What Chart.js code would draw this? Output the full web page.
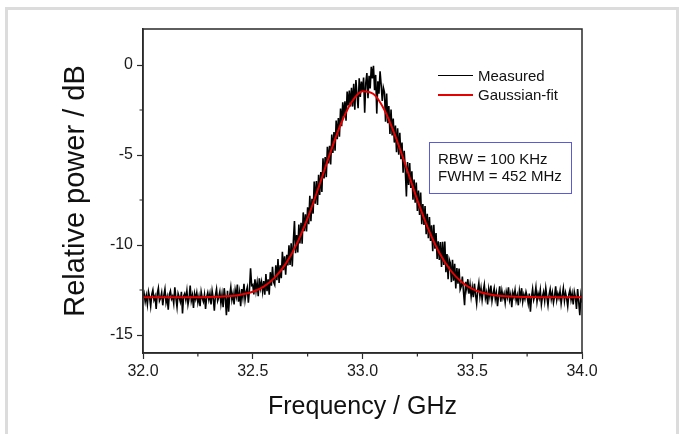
<!DOCTYPE html>
<html>
<head>
<meta charset="utf-8">
<script src="https://cdn.jsdelivr.net/npm/chart.js@4.4.1/dist/chart.umd.min.js"></script>
<style>
  html, body { margin: 0; padding: 0; background: #fff; }
  #wrap { position: relative; width: 680px; height: 434px; overflow: hidden; font-family: 'Liberation Sans', Arial, sans-serif; }
  #frame { position: absolute; left: 5px; top: 7px; width: 668px; height: 500px; border: 3px solid #dcdcdc; border-bottom: none; }
  #c { position: absolute; left: 0; top: 0; }
  .leg { position: absolute; font-size: 15px; line-height: 17px; color: #111; white-space: nowrap; }
  .legline { position: absolute; height: 0; width: 35px; }
  #box { position: absolute; left: 429px; top: 142px; width: 141px; height: 50px; border: 1.5px solid #5b5bd8; }
  .boxtxt { position: absolute; font-size: 15px; line-height: 17px; color: #111; white-space: nowrap; }
</style>
</head>
<body>
<div id="wrap">
  <div id="frame"></div>
  <canvas id="c" width="680" height="434"></canvas>
  <div class="legline" style="left:438px;top:75px;border-top:1.6px solid #000;"></div>
  <div class="leg" style="left:478px;top:67px;">Measured</div>
  <div class="legline" style="left:438px;top:94px;border-top:2px solid #e60000;"></div>
  <div class="leg" style="left:478px;top:86px;">Gaussian-fit</div>
  <div id="box"></div>
  <div class="boxtxt" style="left:438px;top:150px;">RBW = 100 KHz</div>
  <div class="boxtxt" style="left:438px;top:167px;">FWHM = 452 MHz</div>
</div>
<script>
// ---- data ----
const freqStart = 32.0;          // GHz
const measuredStep = 0.005;      // GHz between measured samples
const fitStep = 0.05;            // GHz between fit samples

const measuredDb = [
  -12.95,-12.70,-13.15,-12.80,-13.30,-12.60,-12.90,-13.40,-12.75,-12.50,
  -13.05,-12.85,-13.55,-12.70,-12.40,-13.10,-12.95,-12.65,-13.35,-12.80,
  -12.45,-13.20,-12.90,-13.60,-12.75,-12.55,-13.00,-12.85,-13.25,-12.35,
  -12.95,-13.45,-12.70,-12.90,-13.15,-12.60,-13.80,-12.85,-12.70,-13.05,
  -12.55,-13.30,-12.95,-12.25,-13.10,-12.80,-13.50,-12.70,-13.00,-12.65,
  -13.20,-12.85,-13.40,-12.60,-12.95,-13.15,-12.75,-13.55,-12.90,-12.65,
  -13.05,-12.70,-13.30,-12.55,-12.95,-13.65,-12.80,-12.45,-13.10,-12.90,
  -12.60,-13.25,-12.75,-13.45,-12.40,-12.95,-13.90,-12.55,-13.70,-12.80,
  -12.35,-13.05,-12.70,-13.30,-12.50,-12.85,-12.20,-13.15,-12.65,-13.40,
  -12.45,-12.90,-12.15,-13.05,-12.60,-12.35,-13.20,-12.50,-11.30,-12.25,
  -12.20,-12.75,-11.90,-12.55,-12.10,-12.85,-11.85,-12.40,-12.05,-12.60,
  -12.01,-12.76,-11.61,-12.56,-11.91,-12.76,-11.51,-12.26,-11.21,-12.06,
  -12.21,-11.13,-11.96,-10.78,-12.11,-11.13,-11.85,-10.38,-11.40,-10.63,
  -11.65,-10.54,-11.13,-10.02,-11.11,-9.90,-11.19,-9.78,-8.67,-10.46,
  -9.45,-10.41,-8.86,-9.92,-8.77,-9.93,-8.19,-9.24,-8.30,-9.25,
  -7.91,-8.84,-7.27,-8.68,-7.43,-8.26,-6.48,-7.71,-6.44,-7.77,
  -6.10,-7.22,-5.94,-7.06,-5.18,-6.30,-5.11,-6.23,-4.55,-5.47,
  -4.49,-5.52,-3.86,-4.89,-3.72,-4.76,-3.09,-4.12,-2.95,-3.99,
  -2.42,-3.40,-2.07,-2.85,-2.02,-3.10,-1.47,-2.25,-1.42,-2.30,
  -1.27,-2.31,-1.05,-2.49,-0.83,-1.67,-2.40,-0.74,-1.78,-0.92,
  -1.50,-0.70,-2.65,-1.00,-0.45,-1.85,-0.60,-1.30,-0.10,-0.75,
  -0.05,-1.40,-0.55,-2.70,-0.90,-1.60,-0.35,-1.10,-2.00,-1.25,
  -1.50,-3.15,-1.59,-3.24,-2.28,-3.83,-2.48,-3.92,-2.97,-4.31,
  -3.36,-4.84,-3.51,-4.99,-3.76,-5.24,-4.31,-5.99,-4.76,-5.84,
  -7.31,-5.39,-6.67,-5.45,-6.83,-5.91,-7.49,-6.37,-7.65,-6.53,
  -8.11,-6.97,-8.33,-7.09,-8.85,-7.72,-8.88,-7.84,-9.40,-8.26,
  -9.62,-8.45,-9.78,-8.91,-10.34,-8.88,-10.21,-9.34,-10.77,-9.80,
  -10.83,-9.83,-11.22,-9.82,-11.11,-9.81,-11.51,-10.50,-11.90,-10.79,
  -10.99,-12.06,-10.82,-11.99,-11.05,-12.42,-11.28,-12.15,-11.31,-12.48,
  -12.30,-11.75,-12.60,-13.35,-12.05,-12.45,-11.90,-12.70,-12.20,-12.85,
  -12.35,-12.90,-12.15,-12.75,-13.25,-12.50,-12.10,-12.85,-12.40,-13.05,
  -12.55,-12.20,-12.95,-12.65,-13.30,-12.45,-12.85,-12.25,-13.10,-12.70,
  -12.40,-13.00,-12.65,-13.40,-12.80,-12.30,-13.15,-12.55,-12.95,-12.70,
  -13.20,-12.60,-12.90,-12.35,-13.05,-12.75,-13.45,-12.65,-12.90,-12.50,
  -13.10,-12.80,-13.35,-12.55,-12.95,-12.40,-13.15,-12.75,-13.00,-12.60,
  -12.85,-13.25,-12.70,-13.70,-12.90,-12.45,-13.05,-12.80,-12.35,-13.15,
  -12.70,-12.95,-12.50,-13.30,-12.85,-12.60,-13.10,-12.40,-12.90,-13.35,
  -12.75,-12.45,-13.00,-12.65,-13.20,-12.85,-12.30,-13.05,-12.70,-12.95,
  -12.55,-13.25,-12.80,-12.40,-13.10,-12.65,-12.95,-13.40,-12.75,-12.50,
  -13.05,-12.70,-13.30,-12.60,-12.90,-13.55,-12.45,-13.15,-13.90,-12.80,-13.20
];

const fitDb = [
  -12.90,-12.90,-12.90,-12.90,-12.90,-12.90,-12.89,-12.87,-12.84,-12.75,
  -12.60,-12.31,-11.81,-11.05,-9.95,-8.51,-6.80,-4.99,-3.32,-2.07,
  -1.46,-1.61,-2.50,-3.96,-5.71,-7.51,-9.12,-10.43,-11.39,-12.04,
  -12.44,-12.67,-12.79,-12.85,-12.88,-12.89,-12.90,-12.90,-12.90,-12.90,-12.90
];

const xTickValues = [32.0, 32.5, 33.0, 33.5, 34.0];
const xMinorTicks = [32.25, 32.75, 33.25, 33.75];
const yTickValues = [-15, -10, -5, 0];
const yMinorTicks = [-12.5, -7.5, -2.5];

// ---- build point tables ----
const measuredPts = measuredDb.map((v, i) => ({ x: +(freqStart + i * measuredStep).toFixed(3), y: v }));
const fitPts = fitDb.map((v, i) => ({ x: +(freqStart + i * fitStep).toFixed(3), y: v }));

const AXIS = '#2a2a2a';
const FONT = "'Liberation Sans', Arial, sans-serif";

const framePlugin = {
  id: 'frameAndMinor',
  afterDraw(chart) {
    const { ctx, chartArea: a, scales } = chart;
    ctx.save();
    ctx.strokeStyle = AXIS;
    ctx.lineWidth = 1.5;
    ctx.strokeRect(a.left, a.top, a.right - a.left, a.bottom - a.top);
    ctx.lineWidth = 1.2;
    ctx.beginPath();
    xMinorTicks.forEach(v => {
      const px = scales.x.getPixelForValue(v);
      ctx.moveTo(px, a.bottom); ctx.lineTo(px, a.bottom + 3.5);
    });
    yMinorTicks.forEach(v => {
      const py = scales.y.getPixelForValue(v);
      ctx.moveTo(a.left, py); ctx.lineTo(a.left - 3.5, py);
    });
    ctx.stroke();
    ctx.restore();
  }
};

new Chart(document.getElementById('c'), {
  type: 'line',
  data: {
    datasets: [
      { label: 'Measured', data: measuredPts, borderColor: '#000', borderWidth: 1.6, pointRadius: 0, tension: 0, order: 1 },
      { label: 'Gaussian-fit', data: fitPts, borderColor: '#e60000', borderWidth: 2, pointRadius: 0, cubicInterpolationMode: 'monotone', order: 0 }
    ]
  },
  options: {
    responsive: false,
    devicePixelRatio: 1,
    animation: false,
    layout: { padding: { left: 0, top: 29, right: 98, bottom: 0 } },
    plugins: { legend: { display: false }, tooltip: { enabled: false } },
    scales: {
      x: {
        type: 'linear', min: 32, max: 34,
        afterFit: s => { s.height = 81; },
        afterBuildTicks: s => { s.ticks = xTickValues.map(v => ({ value: v })); },
        border: { display: true, color: AXIS, width: 1.5 },
        grid: { display: true, drawOnChartArea: false, drawTicks: true, tickLength: 6, tickColor: AXIS, tickWidth: 1.2 },
        ticks: { color: '#1a1a1a', font: { family: FONT, size: 16 }, padding: 3, maxRotation: 0, autoSkip: false,
                 callback: v => Number(v).toFixed(1) },
        title: { display: true, text: 'Frequency / GHz', color: '#111', font: { family: FONT, size: 25 }, padding: { top: 0, bottom: 12 } }
      },
      y: {
        type: 'linear', min: -16, max: 2,
        afterFit: s => { s.width = 143; },
        afterBuildTicks: s => { s.ticks = yTickValues.map(v => ({ value: v })); },
        border: { display: true, color: AXIS, width: 1.5 },
        grid: { display: true, drawOnChartArea: false, drawTicks: true, tickLength: 6, tickColor: AXIS, tickWidth: 1.2 },
        ticks: { color: '#1a1a1a', font: { family: FONT, size: 16 }, padding: 4, callback: v => String(v) },
        title: { display: true, text: 'Relative power / dB', color: '#111', font: { family: FONT, size: 29 }, padding: { top: 59, bottom: 0 } }
      }
    }
  },
  plugins: [framePlugin]
});
</script>
</body>
</html>
